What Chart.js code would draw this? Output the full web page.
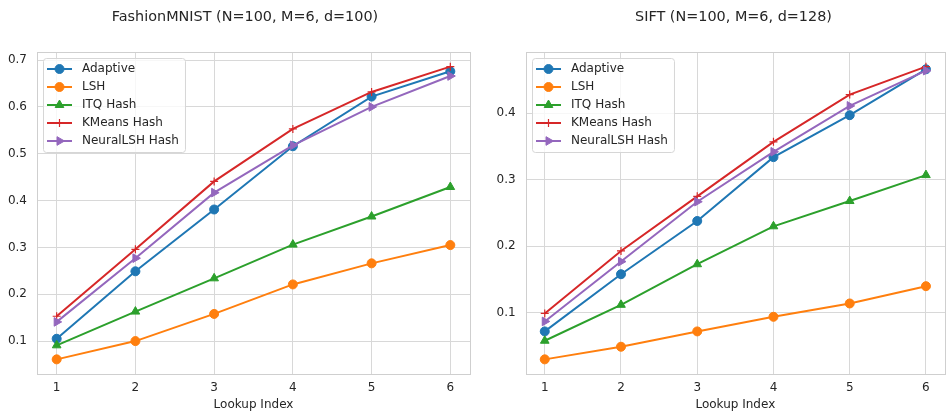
<!DOCTYPE html>
<html>
<head>
<meta charset="utf-8">
<script src="https://cdn.jsdelivr.net/npm/chart.js@4.4.1/dist/chart.umd.min.js"></script>
<style>
  html, body { margin: 0; padding: 0; background: #fff; }
  .row { display: flex; width: 951px; height: 412px; }
  canvas { display: block; }
</style>
</head>
<body>
<div class="row">
  <canvas id="fashionChart" width="480" height="412"></canvas>
  <canvas id="siftChart" width="471" height="412"></canvas>
</div>
<script>
// lookup index on the x axis, shared by both panels
const lookupIndex = [1, 2, 3, 4, 5, 6];

// FashionMNIST recall per lookup
const fashionAdaptive = [0.105, 0.249, 0.381, 0.516, 0.622, 0.676];
const fashionLSH      = [0.061, 0.100, 0.158, 0.221, 0.266, 0.305];
const fashionITQ      = [0.091, 0.163, 0.234, 0.306, 0.366, 0.429];
const fashionKMeans   = [0.153, 0.296, 0.441, 0.553, 0.632, 0.686];
const fashionNeural   = [0.141, 0.277, 0.417, 0.518, 0.600, 0.666];

// SIFT recall per lookup
const siftAdaptive = [0.072, 0.158, 0.238, 0.334, 0.397, 0.466];
const siftLSH      = [0.030, 0.049, 0.072, 0.094, 0.114, 0.140];
const siftITQ      = [0.058, 0.112, 0.173, 0.230, 0.268, 0.307];
const siftKMeans   = [0.099, 0.193, 0.275, 0.357, 0.428, 0.470];
const siftNeural   = [0.087, 0.177, 0.267, 0.342, 0.411, 0.464];

// tick labels
const xTicks = [1, 2, 3, 4, 5, 6];
const fashionYTicks = [0.1, 0.2, 0.3, 0.4, 0.5, 0.6, 0.7];
const siftYTicks = [0.1, 0.2, 0.3, 0.4];

const TEXT = "#262626";
const GRID = "#d8d8d8";
const FRAME = "#cfcfcf";
const FONT = "'DejaVu Sans', sans-serif";

Chart.defaults.font.family = FONT;
Chart.defaults.color = TEXT;

// title drawn above the axes box
const panelTitle = {
  id: "panelTitle",
  afterDraw(chart, args, opts) {
    const ctx = chart.ctx;
    ctx.save();
    ctx.font = "14.4px " + FONT;
    ctx.fillStyle = TEXT;
    ctx.textAlign = "center";
    ctx.textBaseline = "middle";
    ctx.fillText(opts.text, opts.x, opts.y);
    ctx.restore();
  }
};

// light box round the whole plot area (top and right too)
const axesFrame = {
  id: "axesFrame",
  beforeDatasetsDraw(chart) {
    const { ctx, chartArea: a } = chart;
    ctx.save();
    ctx.strokeStyle = FRAME;
    ctx.lineWidth = 1;
    ctx.strokeRect(Math.round(a.left) + 0.5, Math.round(a.top) + 0.5,
      Math.round(a.right - a.left), Math.round(a.bottom - a.top));
    ctx.restore();
  }
};

// legend in the upper left corner, line + marker per series
const lineLegend = {
  id: "lineLegend",
  afterDatasetsDraw(chart) {
    const { ctx, chartArea: a } = chart;
    const sets = chart.data.datasets;
    ctx.save();
    ctx.font = "12px " + FONT;
    const textW = Math.max(...sets.map((d) => ctx.measureText(d.label).width));
    const x0 = Math.round(a.left) + 6, y0 = Math.round(a.top) + 6;
    const w = 39 + textW + 6, h = 22 + (sets.length - 1) * 18;
    ctx.fillStyle = "rgba(255,255,255,0.8)";
    ctx.strokeStyle = "#d6d6d6";
    ctx.lineWidth = 1;
    ctx.beginPath();
    ctx.roundRect(x0 + 0.5, y0 + 0.5, w, h, 3);
    ctx.fill();
    ctx.stroke();
    sets.forEach((d, i) => {
      const y = y0 + 11 + i * 18;
      ctx.strokeStyle = d.borderColor;
      ctx.lineWidth = d.borderWidth;
      ctx.beginPath();
      ctx.moveTo(x0 + 4, y);
      ctx.lineTo(x0 + 29, y);
      ctx.stroke();
      ctx.fillStyle = d.pointBackgroundColor;
      ctx.strokeStyle = d.pointBorderColor;
      ctx.lineWidth = d.pointBorderWidth;
      Chart.helpers.drawPoint(ctx, {
        pointStyle: d.pointStyle,
        rotation: d.pointRotation,
        radius: d.pointRadius,
        borderWidth: d.pointBorderWidth
      }, x0 + 16.5, y);
      ctx.fillStyle = TEXT;
      ctx.textAlign = "left";
      ctx.textBaseline = "middle";
      ctx.fillText(d.label, x0 + 39, y);
    });
    ctx.restore();
  }
};

// marker size per point style
const markerRadius = { circle: 4.5, triangle: 5, cross: 4 };

function series(label, values, color, style, rotation, order) {
  const isCross = style === "cross";
  return {
    label: label,
    data: lookupIndex.map((x, i) => ({ x: x, y: values[i] })),
    borderColor: color,
    backgroundColor: color,
    pointBackgroundColor: color,
    pointBorderColor: color,
    pointStyle: style,
    pointRotation: rotation,
    pointRadius: markerRadius[style],
    pointBorderWidth: isCross ? 1.2 : 1,
    borderWidth: 2,
    tension: 0,
    order: order
  };
}

function datasets(adaptive, lsh, itq, kmeans, neural) {
  return [
    series("Adaptive", adaptive, "#1f77b4", "circle", 0, 5),
    series("LSH", lsh, "#ff7f0e", "circle", 0, 4),
    series("ITQ Hash", itq, "#2ca02c", "triangle", 0, 3),
    series("KMeans Hash", kmeans, "#d62728", "cross", 0, 2),
    series("NeuralLSH Hash", neural, "#9467bd", "triangle", 90, 1)
  ];
}

// y range padded by 5% of the data span
function yRange(all) {
  const lo = Math.min(...all), hi = Math.max(...all);
  const pad = (hi - lo) * 0.05;
  return { min: lo - pad, max: hi + pad };
}

function buildOptions(cfg) {
  const r = yRange(cfg.values);
  return {
    responsive: false,
    animation: false,
    devicePixelRatio: 1,
    layout: { padding: { top: 52, right: cfg.padRight, bottom: 0, left: 0 } },
    plugins: {
      legend: { display: false },
      tooltip: { enabled: false },
      panelTitle: { text: cfg.title, x: cfg.titleX, y: 17 }
    },
    scales: {
      x: {
        type: "linear",
        min: 0.75,
        max: 6.25,
        afterBuildTicks: (s) => { s.ticks = xTicks.map((v) => ({ value: v })); },
        afterFit: (s) => { s.height = 38; },
        grid: { color: GRID, drawTicks: false },
        border: { display: false },
        ticks: { padding: 7, color: TEXT, font: { size: 12 }, callback: (v) => String(v) },
        title: { display: true, text: "Lookup Index", color: TEXT, font: { size: 12 }, padding: { top: 0, bottom: 0 } }
      },
      y: {
        min: r.min,
        max: r.max,
        afterBuildTicks: (s) => { s.ticks = cfg.yTicks.map((v) => ({ value: v })); },
        afterFit: (s) => { s.width = cfg.yWidth; },
        grid: { color: GRID, drawTicks: false },
        border: { display: false },
        ticks: { padding: 10, color: TEXT, font: { size: 12 }, callback: (v) => v.toFixed(1) }
      }
    }
  };
}

new Chart(document.getElementById("fashionChart"), {
  type: "line",
  data: { datasets: datasets(fashionAdaptive, fashionLSH, fashionITQ, fashionKMeans, fashionNeural) },
  options: buildOptions({
    title: "FashionMNIST (N=100, M=6, d=100)",
    titleX: 245,
    yTicks: fashionYTicks,
    yWidth: 37,
    padRight: 10,
    values: [].concat(fashionAdaptive, fashionLSH, fashionITQ, fashionKMeans, fashionNeural)
  }),
  plugins: [panelTitle, axesFrame, lineLegend]
});

new Chart(document.getElementById("siftChart"), {
  type: "line",
  data: { datasets: datasets(siftAdaptive, siftLSH, siftITQ, siftKMeans, siftNeural) },
  options: buildOptions({
    title: "SIFT (N=100, M=6, d=128)",
    titleX: 253.5,
    yTicks: siftYTicks,
    yWidth: 45.7,
    padRight: 1,
    values: [].concat(siftAdaptive, siftLSH, siftITQ, siftKMeans, siftNeural)
  }),
  plugins: [panelTitle, axesFrame, lineLegend]
});
</script>
</body>
</html>
